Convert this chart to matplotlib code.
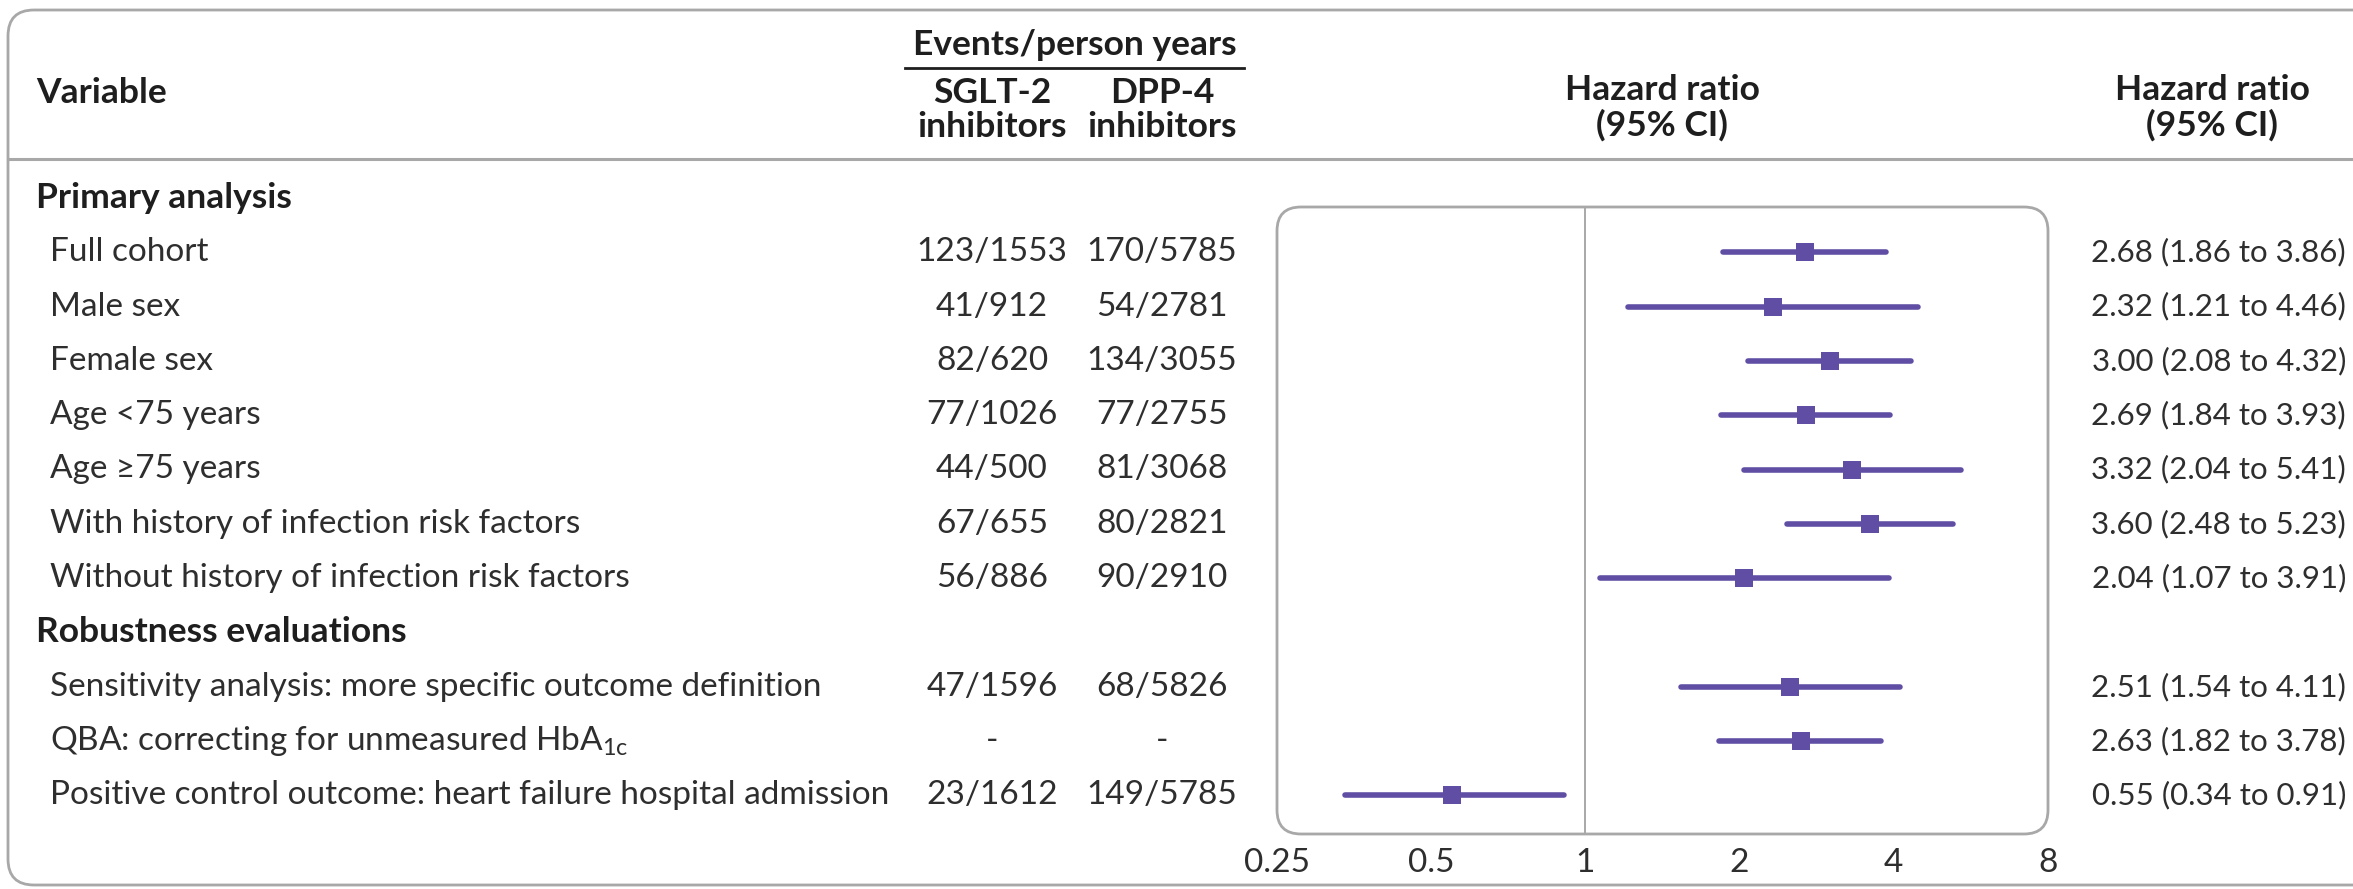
import numpy as np
import matplotlib
matplotlib.use("Agg")
import matplotlib.pyplot as plt
from matplotlib.patches import FancyBboxPatch
from matplotlib.ticker import NullFormatter

plt.rcParams['font.family'] = ['Lato', 'DejaVu Sans']
plt.rcParams['mathtext.fontset'] = 'custom'
plt.rcParams['mathtext.rm'] = 'Lato'
plt.rcParams['mathtext.it'] = 'Lato:italic'
plt.rcParams['mathtext.bf'] = 'Lato:bold'

# data
sections = ["Primary analysis", "Robustness evaluations"]
labels = ["Full cohort", "Male sex", "Female sex", "Age <75 years", "Age \u226575 years",
          "With history of infection risk factors", "Without history of infection risk factors",
          "Sensitivity analysis: more specific outcome definition",
          "QBA: correcting for unmeasured HbA$_{\\mathrm{1c}}$",
          "Positive control outcome: heart failure hospital admission"]
section_of = [0, 0, 0, 0, 0, 0, 0, 1, 1, 1]
sglt2 = ["123/1553", "41/912", "82/620", "77/1026", "44/500", "67/655", "56/886",
         "47/1596", "-", "23/1612"]
dpp4 = ["170/5785", "54/2781", "134/3055", "77/2755", "81/3068", "80/2821", "90/2910",
        "68/5826", "-", "149/5785"]
hr = [2.68, 2.32, 3.00, 2.69, 3.32, 3.60, 2.04, 2.51, 2.63, 0.55]
lo = [1.86, 1.21, 2.08, 1.84, 2.04, 2.48, 1.07, 1.54, 1.82, 0.34]
hi = [3.86, 4.46, 4.32, 3.93, 5.41, 5.23, 3.91, 4.11, 3.78, 0.91]
xticks = [0.25, 0.5, 1, 2, 4, 8]
xticklabels = ["0.25", "0.5", "1", "2", "4", "8"]

W, H = 2353, 889
ROW0, ROWH = 198, 54.3
PURPLE = "#5f4ea3"
TXT = "#2e2e2e"
HEAD = "#1e1e1e"
GRID = "#a8a8a8"
FS = 24
FSH = 25.5
FSCI = 22.5

fig = plt.figure(figsize=(W / 100, H / 100), dpi=100)
bg = fig.add_axes([0, 0, 1, 1])
bg.set_xlim(0, W)
bg.set_ylim(H, 0)
bg.axis("off")

# outer rounded frame (runs off the right edge) and header rule
bg.add_patch(FancyBboxPatch((8, 10), 2420, 875, boxstyle="round,pad=0,rounding_size=26",
                            fc="none", ec=GRID, lw=2))
bg.plot([8, W], [159, 159], color=GRID, lw=2.2)

# column headers
hk = dict(fontsize=FSH, fontweight="bold", color=HEAD, va="center")
bg.text(36, 93, "Variable", ha="left", **hk)
bg.text(1075, 45, "Events/person years", ha="center", **hk)
bg.plot([905, 1244], [68, 68], color=HEAD, lw=2)
bg.text(992, 93, "SGLT-2", ha="center", **hk)
bg.text(992, 127, "inhibitors", ha="center", **hk)
bg.text(1162, 93, "DPP-4", ha="center", **hk)
bg.text(1162, 127, "inhibitors", ha="center", **hk)
bg.text(1662, 90, "Hazard ratio", ha="center", **hk)
bg.text(1662, 125, "(95% CI)", ha="center", **hk)
bg.text(2212, 90, "Hazard ratio", ha="center", **hk)
bg.text(2212, 125, "(95% CI)", ha="center", **hk)

# row positions: section heading, then its rows
rows = []
slot = 0
for s, name in enumerate(sections):
    bg.text(36, ROW0 + ROWH * slot, name, ha="left", **hk)
    slot += 1
    for i in range(len(labels)):
        if section_of[i] == s:
            rows.append(slot)
            slot += 1
ypos = ROW0 + ROWH * np.array(rows)

tk = dict(fontsize=FS, color=TXT, va="center")
for i in range(len(labels)):
    bg.text(50, ypos[i], labels[i], ha="left", **tk)
    bg.text(992, ypos[i], sglt2[i], ha="center", **tk)
    bg.text(1162, ypos[i], dpp4[i], ha="center", **tk)
    bg.text(2346, ypos[i], f"{hr[i]:.2f} ({lo[i]:.2f} to {hi[i]:.2f})", ha="right",
            fontsize=FSCI, color=TXT, va="center")

# forest plot panel
bx0, bx1, by0, by1 = 1277, 2048, 207, 834
bg.add_patch(FancyBboxPatch((bx0, by0), bx1 - bx0, by1 - by0,
                            boxstyle="round,pad=0,rounding_size=24",
                            fc="none", ec=GRID, lw=2))
ax = fig.add_axes([bx0 / W, (H - by1) / H, (bx1 - bx0) / W, (by1 - by0) / H])
ax.set_facecolor("none")
ax.set_xscale("log")
ax.set_xlim(0.25, 8)
ax.set_ylim(by1, by0)
for sp in ax.spines.values():
    sp.set_visible(False)
ax.axvline(1, color=GRID, lw=1.4, zorder=1)
ax.hlines(ypos, lo, hi, color=PURPLE, lw=4, capstyle="round", zorder=2)
ax.plot(hr, ypos, "s", color=PURPLE, ms=13, mew=0, zorder=3)

ax.set_xticks(xticks)
ax.set_xticklabels(xticklabels)
ax.set_xticks([0.5, 1, 2, 4], minor=True)
ax.xaxis.set_minor_formatter(NullFormatter())
ax.tick_params(axis="x", which="major", length=0, pad=10, labelsize=FS, labelcolor=TXT)
ax.tick_params(axis="x", which="minor", direction="in", length=8, width=1.4, color=GRID)
ax.set_yticks([])

fig.savefig("out.png", dpi=100)
